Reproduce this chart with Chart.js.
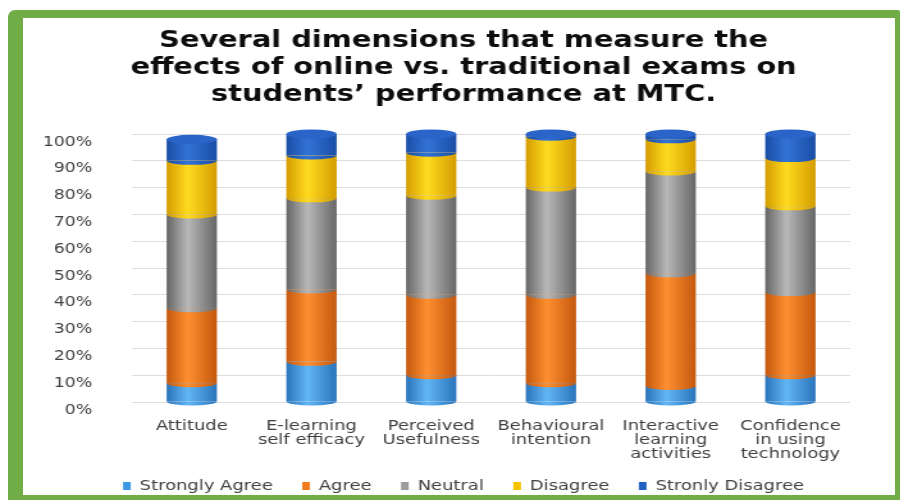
<!DOCTYPE html>
<html>
<head>
<meta charset="utf-8">
<script src="https://cdn.jsdelivr.net/npm/chart.js@4/dist/chart.umd.min.js"></script>
<style>
  html, body { margin: 0; padding: 0; background: #ffffff; }
  body { width: 904px; height: 501px; overflow: hidden; position: relative; }
  #frame { position: absolute; left: 8px; top: 10px; width: 892px; height: 490px; background: #70ad47; border-radius: 7px 2px 0 0; }
  #inner { position: absolute; left: 23px; top: 18px; width: 872px; height: 477px; background: #ffffff; }
  #wrap { position: absolute; left: 0; top: 0; width: 706px; height: 530px; transform: scaleX(1.2805); transform-origin: 0 0; }
</style>
</head>
<body>
<div id="frame"></div>
<div id="inner"></div>
<div id="wrap"><canvas id="c" width="706" height="530"></canvas></div>
<script>
const titleLines = ["Several dimensions that measure the", "effects of online vs. traditional exams on", "students\u2019 performance at MTC."];
const categories = [["Attitude"], ["E-learning", "self efficacy"], ["Perceived", "Usefulness"], ["Behavioural", "intention"], ["Interactive", "learning", "activities"], ["Confidence", "in using", "technology"]];
const seriesNames = ["Strongly Agree", "Agree", "Neutral", "Disagree", "Stronly Disagree"];
const stronglyAgree    = [7, 15, 10, 7, 6, 10];
const agree            = [28, 27, 30, 33, 42, 31];
const neutral          = [35, 34, 37, 40, 38, 32];
const disagree         = [20, 16, 16, 19, 12, 18];
const stronglyDisagree = [8, 8, 7, 1, 2, 9];
const yTicks = [0, 10, 20, 30, 40, 50, 60, 70, 80, 90, 100];

const solid = ["#3d98e2", "#f07a1c", "#9c9c9c", "#f7c200", "#2160c4"];
const shades = [
  ["#2a74bb", "#62b6f5", "#2a74bb"],
  ["#c4580e", "#ff8f30", "#c4580e"],
  ["#666666", "#b8b8b8", "#666666"],
  ["#d49c00", "#ffdb20", "#d49c00"],
  ["#1a4ea6", "#3373d6", "#1a4ea6"]
];
const capColor = "#2a64c8";
const BAR_PCT = 0.42;

function cylinderFill(dsIndex) {
  return function (ctx) {
    const chart = ctx.chart;
    const xs = chart.scales.x;
    if (!chart.chartArea || !xs || ctx.dataIndex === undefined) return solid[dsIndex];
    const cx = xs.getPixelForValue(ctx.dataIndex);
    const half = (xs.width / categories.length) * BAR_PCT / 2;
    const g = chart.ctx.createLinearGradient(cx - half, 0, cx + half, 0);
    const s = shades[dsIndex];
    g.addColorStop(0, s[0]);
    g.addColorStop(0.42, s[1]);
    g.addColorStop(1, s[2]);
    return g;
  };
}

// rounds each segment's lower edge and puts an elliptical cap on each column
const cylinderPlugin = {
  id: "cylinder",
  afterDatasetsDraw(chart) {
    const ctx = chart.ctx;
    const n = chart.data.datasets.length;
    ctx.save();
    for (let d = 0; d < n; d++) {
      const meta = chart.getDatasetMeta(d);
      meta.data.forEach(bar => {
        const p = bar.getProps(["x", "y", "base", "width"], true);
        if (Math.abs(p.base - p.y) < 0.5) return;
        ctx.beginPath();
        ctx.ellipse(p.x, p.base, p.width / 2, 4, 0, 0, Math.PI);
        ctx.closePath();
        ctx.fillStyle = bar.options.backgroundColor;
        ctx.fill();
      });
    }
    const top = chart.getDatasetMeta(n - 1);
    top.data.forEach(bar => {
      const p = bar.getProps(["x", "y", "width"], true);
      ctx.beginPath();
      ctx.ellipse(p.x, p.y, p.width / 2, 4.5, 0, 0, Math.PI * 2);
      ctx.fillStyle = capColor;
      ctx.fill();
    });
    ctx.restore();
  }
};

const values = [stronglyAgree, agree, neutral, disagree, stronglyDisagree];
const datasets = values.map((arr, i) => ({
  label: seriesNames[i],
  data: arr,
  backgroundColor: cylinderFill(i),
  borderWidth: 0,
  barPercentage: BAR_PCT,
  categoryPercentage: 1.0,
  stack: "s"
}));

new Chart(document.getElementById("c"), {
  type: "bar",
  data: { labels: categories, datasets: datasets },
  plugins: [cylinderPlugin],
  options: {
    responsive: false,
    animation: false,
    devicePixelRatio: 1,
    layout: { padding: { top: 28, left: 33, right: 15, bottom: 27 } },
    plugins: {
      tooltip: { enabled: false },
      title: {
        display: true,
        text: titleLines,
        color: "#0d0d0d",
        font: { family: "DejaVu Sans", size: 22.5, weight: "bold", lineHeight: "27px" },
        padding: { top: 0, bottom: 25 }
      },
      legend: {
        position: "bottom",
        labels: {
          color: "#404040",
          font: { family: "DejaVu Sans", size: 14 },
          boxWidth: 6,
          boxHeight: 8,
          padding: 23,
          generateLabels(chart) {
            const items = Chart.defaults.plugins.legend.labels.generateLabels(chart);
            items.forEach((it, i) => { it.fillStyle = solid[i]; it.strokeStyle = solid[i]; it.lineWidth = 0; });
            return items;
          }
        }
      }
    },
    scales: {
      x: {
        stacked: true,
        grid: { display: false, drawTicks: false },
        border: { display: false },
        ticks: {
          color: "#404040",
          font: { family: "DejaVu Sans", size: 14, lineHeight: "14px" },
          mirror: true,
          padding: -31,
          maxRotation: 0,
          autoSkip: false
        },
        afterFit(s) { s.height = 54; }
      },
      y: {
        stacked: true,
        min: 0,
        max: 100,
        grid: { color: "#dddddd", lineWidth: 1, drawTicks: false },
        border: { display: false },
        afterBuildTicks(s) { s.ticks = yTicks.map(v => ({ value: v })); },
        ticks: {
          color: "#404040",
          font: { family: "DejaVu Sans", size: 13.5 },
          padding: 31,
          labelOffset: 8,
          callback: v => v + "%"
        },
        afterFit(s) { s.width = 70; }
      },
      y2: {
        position: "right",
        display: true,
        grid: { display: false, drawTicks: false },
        border: { display: false },
        ticks: { display: false },
        afterFit(s) { s.width = 27; }
      }
    }
  }
});
</script>
</body>
</html>
